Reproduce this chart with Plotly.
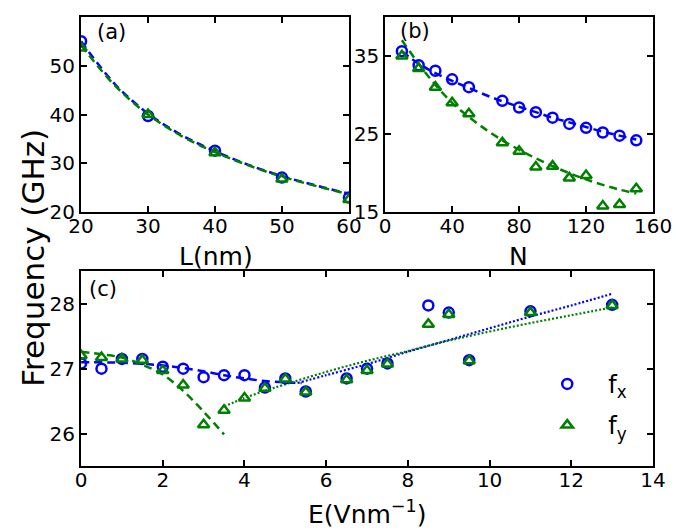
import plotly.graph_objects as go

# ---------------- data ----------------
# panel (a)
L_nm = [20, 30, 40, 50, 60]
a_fx = [55.0, 39.7, 32.6, 27.1, 23.0]
a_fy = [53.6, 40.0, 32.2, 26.8, 22.6]
L_fit = [20, 25, 30, 35, 40, 45, 50, 55, 60]
a_fx_fit = [55.0, 46.3, 40.2, 35.8, 32.5, 29.7, 27.4, 25.5, 23.8]
a_fy_fit = [54.2, 46.0, 40.0, 35.6, 32.3, 29.6, 27.3, 25.4, 23.7]

# panel (b)
N_vals = [10, 20, 30, 40, 50, 70, 80, 90, 100, 110, 120, 130, 140, 150]
b_fx = [35.6, 33.8, 33.1, 32.0, 31.0, 29.25, 28.4, 27.8, 27.1, 26.3, 25.8, 25.2, 24.8, 24.2]
b_fy = [35.0, 33.4, 31.0, 29.0, 27.6, 23.9, 22.8, 20.8, 20.9, 19.4, 19.7, 15.8, 16.0, 18.0]
N_fit = [10, 20, 30, 40, 50, 60, 70, 80, 90, 100, 110, 120, 130, 140, 150]
b_fx_fit = [35.6, 34.0, 32.8, 31.8, 30.9, 30.0, 29.2, 28.5, 27.8, 27.1, 26.5, 25.9, 25.3, 24.8, 24.3]
b_fy_fit = [37.0, 34.0, 31.3, 29.0, 27.2, 25.6, 24.2, 23.0, 21.9, 20.9, 20.0, 19.2, 18.5, 17.9, 17.4]

# panel (c)
E_vals = [0, 0.5, 1, 1.5, 2, 2.5, 3, 3.5, 4, 4.5, 5, 5.5, 6.5, 7, 7.5, 8.5, 9, 9.5, 11, 13]
c_fx = [27.08, 27.0, 27.15, 27.15, 27.03, 27.0, 26.87, 26.9, 26.9, 26.71, 26.85, 26.65,
        26.85, 27.0, 27.08, 27.97, 27.86, 27.13, 27.88, 27.98]
c_fy = [27.2, 27.17, 27.15, 27.13, 26.97, 26.75, 26.14, 26.36, 26.55, 26.7, 26.84, 26.64,
        26.83, 26.97, 27.07, 27.68, 27.83, 27.12, 27.86, 27.97]
E_fx_dash = [0, 1, 2, 2.5, 3, 3.5, 4, 4.5, 5, 5.4]
c_fx_dash = [27.1, 27.09, 27.05, 27.01, 26.96, 26.9, 26.85, 26.81, 26.79, 26.78]
E_fy_dash = [0, 0.5, 1, 1.5, 2, 2.5, 3, 3.5]
c_fy_dash = [27.26, 27.22, 27.17, 27.06, 26.91, 26.66, 26.34, 25.99]
E_fx_dot = [5.3, 6, 7, 8, 9, 10, 11, 12, 13]
c_fx_dot = [26.78, 26.9, 27.07, 27.26, 27.44, 27.62, 27.8, 27.97, 28.15]
E_fy_dot = [3.5, 4, 4.5, 5, 6, 7, 8, 9, 10, 11, 12, 13]
c_fy_dot = [26.42, 26.55, 26.66, 26.76, 26.95, 27.12, 27.27, 27.43, 27.57, 27.7, 27.82, 27.94]

BLUE = "#0000ff"
GREEN = "#008000"
FONT = "DejaVu Sans"

fig = go.Figure()

def circles(x, y, xa, ya, name=None, legend=False):
    return go.Scatter(x=x, y=y, mode="markers", xaxis=xa, yaxis=ya, name=name,
                      showlegend=legend, legendgroup=name,
                      marker=dict(symbol="circle-open", size=10, color=BLUE,
                                  line=dict(width=2.5, color=BLUE)))

def triangles(x, y, xa, ya, name=None, legend=False):
    return go.Scatter(x=x, y=y, mode="markers", xaxis=xa, yaxis=ya, name=name,
                      showlegend=legend, legendgroup=name,
                      marker=dict(symbol="triangle-up-open", size=10, color=GREEN,
                                  line=dict(width=2.5, color=GREEN)))

def fitline(x, y, xa, ya, color, dash, width=2.5):
    return go.Scatter(x=x, y=y, mode="lines", xaxis=xa, yaxis=ya, showlegend=False,
                      line=dict(color=color, dash=dash, width=width, shape="spline"),
                      hoverinfo="skip")

DASH = "8px,5px"
DOT = "2px,2px"

# (a)
fig.add_trace(fitline(L_fit, a_fx_fit, "x", "y", BLUE, DASH))
fig.add_trace(fitline(L_fit, a_fy_fit, "x", "y", GREEN, DASH))
fig.add_trace(circles(L_nm, a_fx, "x", "y"))
fig.add_trace(triangles(L_nm, a_fy, "x", "y"))
# (b)
fig.add_trace(fitline(N_fit, b_fx_fit, "x2", "y2", BLUE, DASH))
fig.add_trace(fitline(N_fit, b_fy_fit, "x2", "y2", GREEN, DASH))
fig.add_trace(circles(N_vals, b_fx, "x2", "y2"))
fig.add_trace(triangles(N_vals, b_fy, "x2", "y2"))
# (c)
fig.add_trace(fitline(E_fx_dash, c_fx_dash, "x3", "y3", BLUE, DASH))
fig.add_trace(fitline(E_fy_dash, c_fy_dash, "x3", "y3", GREEN, DASH))
fig.add_trace(fitline(E_fx_dot, c_fx_dot, "x3", "y3", BLUE, DOT, 2.2))
fig.add_trace(fitline(E_fy_dot, c_fy_dot, "x3", "y3", GREEN, DOT, 2.2))
fig.add_trace(circles(E_vals, c_fx, "x3", "y3", name="f<sub>x</sub>", legend=True))
fig.add_trace(triangles(E_vals, c_fy, "x3", "y3", name="f<sub>y</sub>", legend=True))

W, H = 685, 531
def px(x):
    return x / W
def py(y):
    return 1 - y / H

axis_common = dict(showline=True, linecolor="black", linewidth=2, mirror="ticks",
                   ticks="inside", ticklen=6, tickwidth=1.5, tickcolor="black",
                   showgrid=False, zeroline=False,
                   tickfont=dict(family=FONT, size=20, color="black"))
xcommon = dict(ticklabelstandoff=-5, **axis_common)

fig.update_layout(
    width=W, height=H,
    margin=dict(l=0, r=0, t=0, b=0),
    paper_bgcolor="white", plot_bgcolor="white",
    font=dict(family=FONT, color="black"),
    xaxis=dict(domain=[px(63), px(344)], range=[20, 60], tickvals=[20, 30, 40, 50, 60],
               anchor="y", **xcommon),
    yaxis=dict(domain=[py(209), py(9)], range=[20, 60], tickvals=[20, 30, 40, 50, 60],
               anchor="x", **axis_common),
    xaxis2=dict(domain=[px(382), px(663)], range=[0, 160], tickvals=[0, 40, 80, 120, 160],
                anchor="y2", **xcommon),
    yaxis2=dict(domain=[py(209), py(9)], range=[15, 40], tickvals=[15, 25, 35],
                anchor="x2", **axis_common),
    xaxis3=dict(domain=[px(63), px(663)], range=[0, 14], tickvals=[0, 2, 4, 6, 8, 10, 12, 14],
                anchor="y3", **xcommon),
    yaxis3=dict(domain=[py(469), py(269)], range=[25.5, 28.5], tickvals=[26, 27, 28],
                anchor="x3", **axis_common),
    legend=dict(x=px(530), y=py(362), xanchor="left", yanchor="top",
                font=dict(family=FONT, size=24, color="black"),
                bgcolor="rgba(0,0,0,0)", traceorder="grouped", tracegroupgap=7,
                itemwidth=72),
    showlegend=True,
)

ann = [
    dict(text="(a)", x=px(95), y=py(25), size=21),
    dict(text="(b)", x=px(413), y=py(24), size=21),
    dict(text="(c)", x=px(86), y=py(288), size=21),
    dict(text="L(nm)", x=px(205), y=py(254), size=25),
    dict(text="N", x=px(522), y=py(254), size=25),
    dict(text="E(Vnm<sup>−1</sup>)", x=px(363), y=py(516), size=25),
]
for a in ann:
    fig.add_annotation(text=a["text"], x=a["x"], y=a["y"], xref="paper", yref="paper",
                       xanchor="center", yanchor="middle", showarrow=False,
                       font=dict(family=FONT, size=a["size"], color="black"))
fig.add_annotation(text="Frequency (GHz)", x=px(13), y=py(255), xref="paper", yref="paper",
                   xanchor="center", yanchor="middle", showarrow=False, textangle=-90,
                   font=dict(family=FONT, size=31, color="black"))

fig.write_html("out.html")
